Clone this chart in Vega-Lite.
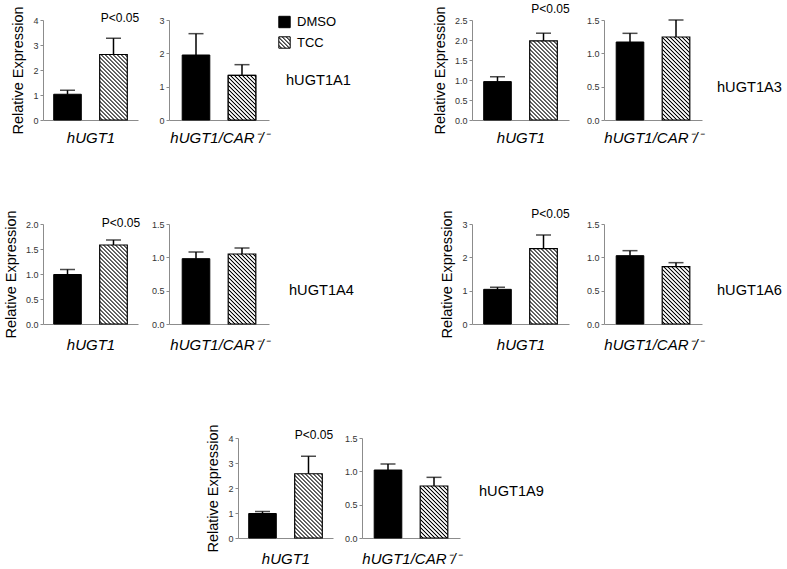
{
"$schema":"https://vega.github.io/schema/vega-lite/v6.json",
"padding":{"left":3,"top":2,"right":0,"bottom":0},
"background":"#ffffff",
"params":[{"name":"hatch","value":[
{"offset":0,"color":"#fff"},{"offset":0.0117,"color":"#fff"},{"offset":0.0233,"color":"#000"},
{"offset":0.0333,"color":"#fff"},{"offset":0.045,"color":"#fff"},{"offset":0.0567,"color":"#000"},
{"offset":0.0667,"color":"#fff"},{"offset":0.0783,"color":"#fff"},{"offset":0.09,"color":"#000"},
{"offset":0.1,"color":"#fff"},{"offset":0.1117,"color":"#fff"},{"offset":0.1233,"color":"#000"},
{"offset":0.1333,"color":"#fff"},{"offset":0.145,"color":"#fff"},{"offset":0.1567,"color":"#000"},
{"offset":0.1667,"color":"#fff"},{"offset":0.1783,"color":"#fff"},{"offset":0.19,"color":"#000"},
{"offset":0.2,"color":"#fff"},{"offset":0.2117,"color":"#fff"},{"offset":0.2233,"color":"#000"},
{"offset":0.2333,"color":"#fff"},{"offset":0.245,"color":"#fff"},{"offset":0.2567,"color":"#000"},
{"offset":0.2667,"color":"#fff"},{"offset":0.2783,"color":"#fff"},{"offset":0.29,"color":"#000"},
{"offset":0.3,"color":"#fff"},{"offset":0.3117,"color":"#fff"},{"offset":0.3233,"color":"#000"},
{"offset":0.3333,"color":"#fff"},{"offset":0.345,"color":"#fff"},{"offset":0.3567,"color":"#000"},
{"offset":0.3667,"color":"#fff"},{"offset":0.3783,"color":"#fff"},{"offset":0.39,"color":"#000"},
{"offset":0.4,"color":"#fff"},{"offset":0.4117,"color":"#fff"},{"offset":0.4233,"color":"#000"},
{"offset":0.4333,"color":"#fff"},{"offset":0.445,"color":"#fff"},{"offset":0.4567,"color":"#000"},
{"offset":0.4667,"color":"#fff"},{"offset":0.4783,"color":"#fff"},{"offset":0.49,"color":"#000"},
{"offset":0.5,"color":"#fff"},{"offset":0.5117,"color":"#fff"},{"offset":0.5233,"color":"#000"},
{"offset":0.5333,"color":"#fff"},{"offset":0.545,"color":"#fff"},{"offset":0.5567,"color":"#000"},
{"offset":0.5667,"color":"#fff"},{"offset":0.5783,"color":"#fff"},{"offset":0.59,"color":"#000"},
{"offset":0.6,"color":"#fff"},{"offset":0.6117,"color":"#fff"},{"offset":0.6233,"color":"#000"},
{"offset":0.6333,"color":"#fff"},{"offset":0.645,"color":"#fff"},{"offset":0.6567,"color":"#000"},
{"offset":0.6667,"color":"#fff"},{"offset":0.6783,"color":"#fff"},{"offset":0.69,"color":"#000"},
{"offset":0.7,"color":"#fff"},{"offset":0.7117,"color":"#fff"},{"offset":0.7233,"color":"#000"},
{"offset":0.7333,"color":"#fff"},{"offset":0.745,"color":"#fff"},{"offset":0.7567,"color":"#000"},
{"offset":0.7667,"color":"#fff"},{"offset":0.7783,"color":"#fff"},{"offset":0.79,"color":"#000"},
{"offset":0.8,"color":"#fff"},{"offset":0.8117,"color":"#fff"},{"offset":0.8233,"color":"#000"},
{"offset":0.8333,"color":"#fff"},{"offset":0.845,"color":"#fff"},{"offset":0.8567,"color":"#000"},
{"offset":0.8667,"color":"#fff"},{"offset":0.8783,"color":"#fff"},{"offset":0.89,"color":"#000"},
{"offset":0.9,"color":"#fff"},{"offset":0.9117,"color":"#fff"},{"offset":0.9233,"color":"#000"},
{"offset":0.9333,"color":"#fff"},{"offset":0.945,"color":"#fff"},{"offset":0.9567,"color":"#000"},
{"offset":0.9667,"color":"#fff"},{"offset":0.9783,"color":"#fff"},{"offset":0.99,"color":"#000"},
{"offset":1,"color":"#fff"}
]}],
"datasets":{"d":[
{"gene":"hUGT1A1","strain":"hUGT1","treatment":"DMSO","mean":1.03,"hi":1.19},
{"gene":"hUGT1A1","strain":"hUGT1","treatment":"TCC","mean":2.62,"hi":3.27},
{"gene":"hUGT1A1","strain":"hUGT1/CAR-/-","treatment":"DMSO","mean":1.95,"hi":2.59},
{"gene":"hUGT1A1","strain":"hUGT1/CAR-/-","treatment":"TCC","mean":1.34,"hi":1.66},
{"gene":"hUGT1A3","strain":"hUGT1","treatment":"DMSO","mean":0.96,"hi":1.08},
{"gene":"hUGT1A3","strain":"hUGT1","treatment":"TCC","mean":1.98,"hi":2.17},
{"gene":"hUGT1A3","strain":"hUGT1/CAR-/-","treatment":"DMSO","mean":1.17,"hi":1.3},
{"gene":"hUGT1A3","strain":"hUGT1/CAR-/-","treatment":"TCC","mean":1.245,"hi":1.5},
{"gene":"hUGT1A4","strain":"hUGT1","treatment":"DMSO","mean":0.99,"hi":1.09},
{"gene":"hUGT1A4","strain":"hUGT1","treatment":"TCC","mean":1.58,"hi":1.68},
{"gene":"hUGT1A4","strain":"hUGT1/CAR-/-","treatment":"DMSO","mean":0.98,"hi":1.08},
{"gene":"hUGT1A4","strain":"hUGT1/CAR-/-","treatment":"TCC","mean":1.05,"hi":1.14},
{"gene":"hUGT1A6","strain":"hUGT1","treatment":"DMSO","mean":1.04,"hi":1.1},
{"gene":"hUGT1A6","strain":"hUGT1","treatment":"TCC","mean":2.26,"hi":2.67},
{"gene":"hUGT1A6","strain":"hUGT1/CAR-/-","treatment":"DMSO","mean":1.025,"hi":1.1},
{"gene":"hUGT1A6","strain":"hUGT1/CAR-/-","treatment":"TCC","mean":0.86,"hi":0.92},
{"gene":"hUGT1A9","strain":"hUGT1","treatment":"DMSO","mean":0.98,"hi":1.06},
{"gene":"hUGT1A9","strain":"hUGT1","treatment":"TCC","mean":2.57,"hi":3.27},
{"gene":"hUGT1A9","strain":"hUGT1/CAR-/-","treatment":"DMSO","mean":1.02,"hi":1.11},
{"gene":"hUGT1A9","strain":"hUGT1/CAR-/-","treatment":"TCC","mean":0.78,"hi":0.91}
]},
"spacing":418,
"bounds":"flush",
"resolve":{"scale":{"fill":"independent"},"legend":{"fill":"independent"}},
"vconcat":[
{"columns":9,
 "spacing":{"row":104,"column":0},
 "align":{"row":"each","column":"none"},
 "bounds":"flush",
 "resolve":{"scale":{"fill":"independent"},"legend":{"fill":"independent"}},
 "concat":[
{"width":95,"height":100,"data":{"name":"d"},
 "transform":[{"filter":"datum.gene==='hUGT1A1' && datum.strain==='hUGT1'"}],
 "encoding":{
  "x":{"field":"treatment","type":"nominal","scale":{"paddingInner":0.4,"paddingOuter":0.233},"axis":{"title":"hUGT1","titlePadding":10}},
  "y":{"field":"mean","type":"quantitative","scale":{"domain":[0,4],"nice":false},"axis":{"title":"Relative Expression","values":[0,1,2,3,4],"format":"d"}}},
 "layer":[
  {"transform":[{"filter":"datum.treatment==='DMSO'"}],"mark":{"type":"bar","fill":"#000","stroke":"#000","strokeWidth":1},"encoding":{}},
  {"transform":[{"filter":"datum.treatment==='TCC'"}],"mark":{"type":"bar","fill":{"expr":"{gradient:'linear',x1:0,y1:1,x2:0.6556,y2:-0.5557,stops:hatch}"},"stroke":"#000","strokeWidth":1.2},"encoding":{}},
  {"mark":{"type":"rule","stroke":"#000","strokeWidth":1.5},"encoding":{"y2":{"field":"hi"}}},
  {"mark":{"type":"tick","color":"#000","size":15,"thickness":1.5},"encoding":{"y":{"field":"hi","type":"quantitative","title":"Relative Expression"}}},
  {"transform":[{"filter":"datum.treatment==='TCC'"}],"mark":{"type":"text","text":"P<0.05","align":"left","baseline":"middle","dx":1,"fontSize":12},"encoding":{"x":{"field":"treatment","type":"nominal","bandPosition":0,"title":"hUGT1"},"y":{"datum":4.07}}}
 ]},
{"width":31,"height":100,"data":{"values":[]},"mark":"text","encoding":{}},
{"width":100,"height":100,"data":{"name":"d"},
 "transform":[{"filter":"datum.gene==='hUGT1A1' && datum.strain==='hUGT1/CAR-/-'"}],
 "encoding":{
  "x":{"field":"treatment","type":"nominal","scale":{"paddingInner":0.4,"paddingOuter":0.287},"axis":{"title":"hUGT1/CAR⁻/⁻","titlePadding":10}},
  "y":{"field":"mean","type":"quantitative","scale":{"domain":[0,3],"nice":false},"axis":{"title":null,"values":[0,1,2,3],"format":"d"}}},
 "layer":[
  {"mark":{"type":"bar","stroke":"#000","strokeWidth":1},"encoding":{"fill":{"field":"treatment","type":"nominal","scale":{"domain":["DMSO","TCC"],"range":["#000",{"expr":"{gradient:'linear',x1:0,y1:1,x2:5.26,y2:-4.26,stops:hatch}"}]},
    "legend":{"title":null,"orient":"none","legendX":109,"legendY":-4.5,"symbolType":"square","symbolSize":130,"symbolStrokeColor":"#000","symbolStrokeWidth":1,"labelFontSize":13,"labelColor":"#000","labelOffset":6,"rowPadding":3.5,"padding":0}}}},
  {"transform":[{"filter":"datum.treatment==='TCC'"}],"mark":{"type":"bar","fill":{"expr":"{gradient:'linear',x1:0,y1:1,x2:1.2013,y2:-0.944,stops:hatch}"},"stroke":"#000","strokeWidth":1.2},"encoding":{}},
  {"mark":{"type":"rule","stroke":"#000","strokeWidth":1.5},"encoding":{"y2":{"field":"hi"}}},
  {"mark":{"type":"tick","color":"#000","size":15,"thickness":1.5},"encoding":{"y":{"field":"hi","type":"quantitative","title":null}}}
 ]},
{"width":44,"height":100,"data":{"name":"d"},"transform":[{"filter":"datum.gene==='hUGT1A1' && datum.strain==='hUGT1' && datum.treatment==='DMSO'"}],
 "mark":{"type":"text","align":"left","baseline":"middle","fontSize":14.6,"dx":-5,"dy":11},"encoding":{"text":{"field":"gene"}}},
{"width":159,"height":100,"data":{"values":[]},"mark":"text","encoding":{}},
{"width":97,"height":100,"data":{"name":"d"},
 "transform":[{"filter":"datum.gene==='hUGT1A3' && datum.strain==='hUGT1'"}],
 "encoding":{
  "x":{"field":"treatment","type":"nominal","scale":{"paddingInner":0.4,"paddingOuter":0.254},"axis":{"title":"hUGT1","titlePadding":10}},
  "y":{"field":"mean","type":"quantitative","scale":{"domain":[0,2.5],"nice":false},"axis":{"title":"Relative Expression","values":[0,0.5,1,1.5,2,2.5],"format":".1f"}}},
 "layer":[
  {"transform":[{"filter":"datum.treatment==='DMSO'"}],"mark":{"type":"bar","fill":"#000","stroke":"#000","strokeWidth":1},"encoding":{}},
  {"transform":[{"filter":"datum.treatment==='TCC'"}],"mark":{"type":"bar","fill":{"expr":"{gradient:'linear',x1:0,y1:1,x2:0.4708,y2:-0.351,stops:hatch}"},"stroke":"#000","strokeWidth":1.2},"encoding":{}},
  {"mark":{"type":"rule","stroke":"#000","strokeWidth":1.5},"encoding":{"y2":{"field":"hi"}}},
  {"mark":{"type":"tick","color":"#000","size":15,"thickness":1.5},"encoding":{"y":{"field":"hi","type":"quantitative","title":"Relative Expression"}}},
  {"transform":[{"filter":"datum.treatment==='TCC'"}],"mark":{"type":"text","text":"P<0.05","align":"left","baseline":"middle","dx":1.5,"fontSize":12},"encoding":{"x":{"field":"treatment","type":"nominal","bandPosition":0,"title":"hUGT1"},"y":{"datum":2.78}}}
 ]},
{"width":35,"height":100,"data":{"values":[]},"mark":"text","encoding":{}},
{"width":98,"height":100,"data":{"name":"d"},
 "transform":[{"filter":"datum.gene==='hUGT1A3' && datum.strain==='hUGT1/CAR-/-'"}],
 "encoding":{
  "x":{"field":"treatment","type":"nominal","scale":{"paddingInner":0.4,"paddingOuter":0.265},"axis":{"title":"hUGT1/CAR⁻/⁻","titlePadding":10}},
  "y":{"field":"mean","type":"quantitative","scale":{"domain":[0,1.5],"nice":false},"axis":{"title":null,"values":[0,0.5,1,1.5],"format":".1f"}}},
 "layer":[
  {"transform":[{"filter":"datum.treatment==='DMSO'"}],"mark":{"type":"bar","fill":"#000","stroke":"#000","strokeWidth":1},"encoding":{}},
  {"transform":[{"filter":"datum.treatment==='TCC'"}],"mark":{"type":"bar","fill":{"expr":"{gradient:'linear',x1:0,y1:1,x2:0.4329,y2:-0.3018,stops:hatch}"},"stroke":"#000","strokeWidth":1.2},"encoding":{}},
  {"mark":{"type":"rule","stroke":"#000","strokeWidth":1.5},"encoding":{"y2":{"field":"hi"}}},
  {"mark":{"type":"tick","color":"#000","size":15,"thickness":1.5},"encoding":{"y":{"field":"hi","type":"quantitative","title":null}}}
 ]},
{"width":34,"height":100,"data":{"name":"d"},"transform":[{"filter":"datum.gene==='hUGT1A3' && datum.strain==='hUGT1' && datum.treatment==='DMSO'"}],
 "mark":{"type":"text","align":"left","baseline":"middle","fontSize":14.6,"dx":-2,"dy":17.7},"encoding":{"text":{"field":"gene"}}},

{"width":95,"height":100,"data":{"name":"d"},
 "transform":[{"filter":"datum.gene==='hUGT1A4' && datum.strain==='hUGT1'"}],
 "encoding":{
  "x":{"field":"treatment","type":"nominal","scale":{"paddingInner":0.4,"paddingOuter":0.233},"axis":{"title":"hUGT1"}},
  "y":{"field":"mean","type":"quantitative","scale":{"domain":[0,2],"nice":false},"axis":{"title":"Relative Expression","values":[0,0.5,1,1.5,2],"format":".1f"}}},
 "layer":[
  {"transform":[{"filter":"datum.treatment==='DMSO'"}],"mark":{"type":"bar","fill":"#000","stroke":"#000","strokeWidth":1},"encoding":{}},
  {"transform":[{"filter":"datum.treatment==='TCC'"}],"mark":{"type":"bar","fill":{"expr":"{gradient:'linear',x1:0,y1:1,x2:0.4729,y2:-0.3537,stops:hatch}"},"stroke":"#000","strokeWidth":1.2},"encoding":{}},
  {"mark":{"type":"rule","stroke":"#000","strokeWidth":1.5},"encoding":{"y2":{"field":"hi"}}},
  {"mark":{"type":"tick","color":"#000","size":15,"thickness":1.5},"encoding":{"y":{"field":"hi","type":"quantitative","title":"Relative Expression"}}},
  {"transform":[{"filter":"datum.treatment==='TCC'"}],"mark":{"type":"text","text":"P<0.05","align":"left","baseline":"middle","dx":2,"fontSize":12},"encoding":{"x":{"field":"treatment","type":"nominal","bandPosition":0,"title":"hUGT1"},"y":{"datum":2.026}}}
 ]},
{"width":31,"height":100,"data":{"values":[]},"mark":"text","encoding":{}},
{"width":100,"height":100,"data":{"name":"d"},
 "transform":[{"filter":"datum.gene==='hUGT1A4' && datum.strain==='hUGT1/CAR-/-'"}],
 "encoding":{
  "x":{"field":"treatment","type":"nominal","scale":{"paddingInner":0.4,"paddingOuter":0.287},"axis":{"title":"hUGT1/CAR⁻/⁻"}},
  "y":{"field":"mean","type":"quantitative","scale":{"domain":[0,1.5],"nice":false},"axis":{"title":null,"values":[0,0.5,1,1.5],"format":".1f"}}},
 "layer":[
  {"transform":[{"filter":"datum.treatment==='DMSO'"}],"mark":{"type":"bar","fill":"#000","stroke":"#000","strokeWidth":1},"encoding":{}},
  {"transform":[{"filter":"datum.treatment==='TCC'"}],"mark":{"type":"bar","fill":{"expr":"{gradient:'linear',x1:0,y1:1,x2:0.585,y2:-0.4836,stops:hatch}"},"stroke":"#000","strokeWidth":1.2},"encoding":{}},
  {"mark":{"type":"rule","stroke":"#000","strokeWidth":1.5},"encoding":{"y2":{"field":"hi"}}},
  {"mark":{"type":"tick","color":"#000","size":15,"thickness":1.5},"encoding":{"y":{"field":"hi","type":"quantitative","title":null}}}
 ]},
{"width":44,"height":100,"data":{"name":"d"},"transform":[{"filter":"datum.gene==='hUGT1A4' && datum.strain==='hUGT1' && datum.treatment==='DMSO'"}],
 "mark":{"type":"text","align":"left","baseline":"middle","fontSize":14.6,"dx":-2,"dy":17},"encoding":{"text":{"field":"gene"}}},
{"width":159,"height":100,"data":{"values":[]},"mark":"text","encoding":{}},
{"width":97,"height":100,"data":{"name":"d"},
 "transform":[{"filter":"datum.gene==='hUGT1A6' && datum.strain==='hUGT1'"}],
 "encoding":{
  "x":{"field":"treatment","type":"nominal","scale":{"paddingInner":0.4,"paddingOuter":0.254},"axis":{"title":"hUGT1"}},
  "y":{"field":"mean","type":"quantitative","scale":{"domain":[0,3],"nice":false},"axis":{"title":"Relative Expression","values":[0,1,2,3],"format":"d"}}},
 "layer":[
  {"transform":[{"filter":"datum.treatment==='DMSO'"}],"mark":{"type":"bar","fill":"#000","stroke":"#000","strokeWidth":1},"encoding":{}},
  {"transform":[{"filter":"datum.treatment==='TCC'"}],"mark":{"type":"bar","fill":{"expr":"{gradient:'linear',x1:0,y1:1,x2:0.5146,y2:-0.4046,stops:hatch}"},"stroke":"#000","strokeWidth":1.2},"encoding":{}},
  {"mark":{"type":"rule","stroke":"#000","strokeWidth":1.5},"encoding":{"y2":{"field":"hi"}}},
  {"mark":{"type":"tick","color":"#000","size":15,"thickness":1.5},"encoding":{"y":{"field":"hi","type":"quantitative","title":"Relative Expression"}}},
  {"transform":[{"filter":"datum.treatment==='TCC'"}],"mark":{"type":"text","text":"P<0.05","align":"left","baseline":"middle","dx":1.5,"fontSize":12},"encoding":{"x":{"field":"treatment","type":"nominal","bandPosition":0,"title":"hUGT1"},"y":{"datum":3.31}}}
 ]},
{"width":35,"height":100,"data":{"values":[]},"mark":"text","encoding":{}},
{"width":98,"height":100,"data":{"name":"d"},
 "transform":[{"filter":"datum.gene==='hUGT1A6' && datum.strain==='hUGT1/CAR-/-'"}],
 "encoding":{
  "x":{"field":"treatment","type":"nominal","scale":{"paddingInner":0.4,"paddingOuter":0.265},"axis":{"title":"hUGT1/CAR⁻/⁻"}},
  "y":{"field":"mean","type":"quantitative","scale":{"domain":[0,1.5],"nice":false},"axis":{"title":null,"values":[0,0.5,1,1.5],"format":".1f"}}},
 "layer":[
  {"transform":[{"filter":"datum.treatment==='DMSO'"}],"mark":{"type":"bar","fill":"#000","stroke":"#000","strokeWidth":1},"encoding":{}},
  {"transform":[{"filter":"datum.treatment==='TCC'"}],"mark":{"type":"bar","fill":{"expr":"{gradient:'linear',x1:0,y1:1,x2:0.8188,y2:-0.7,stops:hatch}"},"stroke":"#000","strokeWidth":1.2},"encoding":{}},
  {"mark":{"type":"rule","stroke":"#000","strokeWidth":1.5},"encoding":{"y2":{"field":"hi"}}},
  {"mark":{"type":"tick","color":"#000","size":15,"thickness":1.5},"encoding":{"y":{"field":"hi","type":"quantitative","title":null}}}
 ]},
{"width":34,"height":100,"data":{"name":"d"},"transform":[{"filter":"datum.gene==='hUGT1A6' && datum.strain==='hUGT1' && datum.treatment==='DMSO'"}],
 "mark":{"type":"text","align":"left","baseline":"middle","fontSize":14.6,"dx":-2,"dy":17},"encoding":{"text":{"field":"gene"}}}
 ]},
{"columns":5,
 "spacing":{"row":0,"column":0},
 "align":{"row":"each","column":"none"},
 "bounds":"flush",
 "concat":[
{"width":195,"height":100,"data":{"values":[]},"mark":"text","encoding":{}},
{"width":95,"height":100,"data":{"name":"d"},
 "transform":[{"filter":"datum.gene==='hUGT1A9' && datum.strain==='hUGT1'"}],
 "encoding":{
  "x":{"field":"treatment","type":"nominal","scale":{"paddingInner":0.4,"paddingOuter":0.233},"axis":{"title":"hUGT1"}},
  "y":{"field":"mean","type":"quantitative","scale":{"domain":[0,4],"nice":false},"axis":{"title":"Relative Expression","values":[0,1,2,3,4],"format":"d"}}},
 "layer":[
  {"transform":[{"filter":"datum.treatment==='DMSO'"}],"mark":{"type":"bar","fill":"#000","stroke":"#000","strokeWidth":1},"encoding":{}},
  {"transform":[{"filter":"datum.treatment==='TCC'"}],"mark":{"type":"bar","fill":{"expr":"{gradient:'linear',x1:0,y1:1,x2:0.6773,y2:-0.5767,stops:hatch}"},"stroke":"#000","strokeWidth":1.2},"encoding":{}},
  {"mark":{"type":"rule","stroke":"#000","strokeWidth":1.5},"encoding":{"y2":{"field":"hi"}}},
  {"mark":{"type":"tick","color":"#000","size":15,"thickness":1.5},"encoding":{"y":{"field":"hi","type":"quantitative","title":"Relative Expression"}}},
  {"transform":[{"filter":"datum.treatment==='TCC'"}],"mark":{"type":"text","text":"P<0.05","align":"left","baseline":"middle","dx":0,"fontSize":12},"encoding":{"x":{"field":"treatment","type":"nominal","bandPosition":0,"title":"hUGT1"},"y":{"datum":4.11}}}
 ]},
{"width":29,"height":100,"data":{"values":[]},"mark":"text","encoding":{}},
{"width":98,"height":100,"data":{"name":"d"},
 "transform":[{"filter":"datum.gene==='hUGT1A9' && datum.strain==='hUGT1/CAR-/-'"}],
 "encoding":{
  "x":{"field":"treatment","type":"nominal","scale":{"paddingInner":0.4,"paddingOuter":0.265},"axis":{"title":"hUGT1/CAR⁻/⁻"}},
  "y":{"field":"mean","type":"quantitative","scale":{"domain":[0,1.5],"nice":false},"axis":{"title":null,"values":[0,0.5,1,1.5],"format":".1f"}}},
 "layer":[
  {"transform":[{"filter":"datum.treatment==='DMSO'"}],"mark":{"type":"bar","fill":"#000","stroke":"#000","strokeWidth":1},"encoding":{}},
  {"transform":[{"filter":"datum.treatment==='TCC'"}],"mark":{"type":"bar","fill":{"expr":"{gradient:'linear',x1:0,y1:1,x2:0.9556,y2:-0.8003,stops:hatch}"},"stroke":"#000","strokeWidth":1.2},"encoding":{}},
  {"mark":{"type":"rule","stroke":"#000","strokeWidth":1.5},"encoding":{"y2":{"field":"hi"}}},
  {"mark":{"type":"tick","color":"#000","size":15,"thickness":1.5},"encoding":{"y":{"field":"hi","type":"quantitative","title":null}}}
 ]},
{"width":40,"height":100,"data":{"name":"d"},"transform":[{"filter":"datum.gene==='hUGT1A9' && datum.strain==='hUGT1' && datum.treatment==='DMSO'"}],
 "mark":{"type":"text","align":"left","baseline":"middle","fontSize":14.6,"dx":-1,"dy":3.5},"encoding":{"text":{"field":"gene"}}}
 ]}
],
"config":{
 "font":"Liberation Sans",
 "view":{"stroke":null},
 "axis":{"domainColor":"#8c8c8c","domainWidth":1,"tickColor":"#8c8c8c","tickSize":3,"tickWidth":1,"labelFontSize":9,"labelColor":"#333333","labelPadding":2,"titleFontWeight":"normal","titleColor":"#000000","grid":false},
 "axisX":{"labels":false,"ticks":false,"titleFontSize":15,"titleFontStyle":"italic","titlePadding":13},
 "axisY":{"titleFontSize":14.5,"titlePadding":7},
 "text":{"color":"#000000"}
}
}
